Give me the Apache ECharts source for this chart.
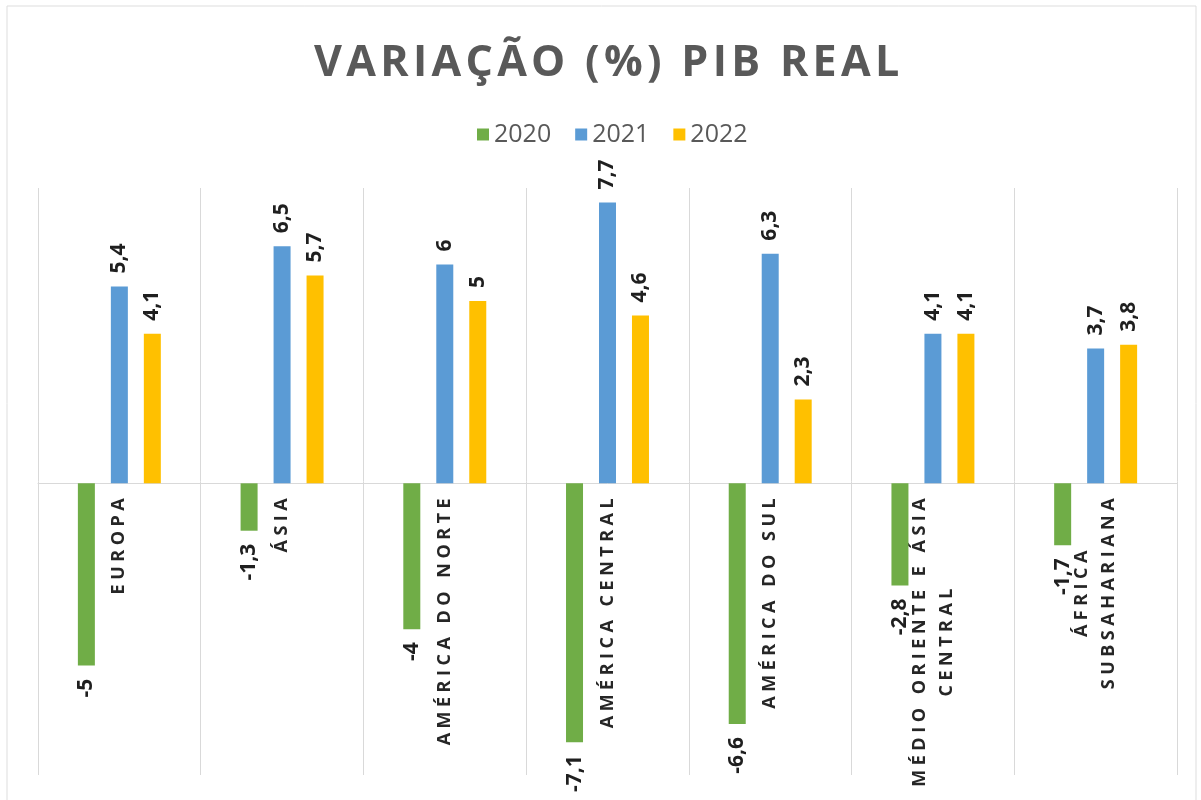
<!DOCTYPE html>
<html>
<head>
<meta charset="utf-8">
<script src="https://cdn.jsdelivr.net/npm/echarts@6/dist/echarts.min.js"></script>
<style>
html,body{margin:0;padding:0;background:#fff;}
#chart{width:1201px;height:800px;}
</style>
</head>
<body>
<div id="chart"></div>
<script>
const titleText = 'VARIAÇÃO (%) PIB REAL';
const categories = ['EUROPA', 'ÁSIA', 'AMÉRICA DO NORTE', 'AMÉRICA CENTRAL', 'AMÉRICA DO SUL', 'MÉDIO ORIENTE E ÁSIA\nCENTRAL', 'ÁFRICA\nSUBSAHARIANA'];
const seriesNames = ['2020', '2021', '2022'];
const values2020 = [-5, -1.3, -4, -7.1, -6.6, -2.8, -1.7];
const values2021 = [5.4, 6.5, 6, 7.7, 6.3, 4.1, 3.7];
const values2022 = [4.1, 5.7, 5, 4.6, 2.3, 4.1, 3.8];
const colors = ['#70AD47', '#5B9BD5', '#FFC000'];

const Y_MIN = -8, Y_MAX = 8.1;
const GRID = {left: 38, right: 24, top: 188, bottom: 25};
const CHART_H = 800;
const gridH = CHART_H - GRID.top - GRID.bottom;
const zeroOffset = -gridH * (0 - Y_MIN) / (Y_MAX - Y_MIN);

const FONT = '"Open Sans", "Noto Sans", sans-serif';
function spaced(s, sp) { return Array.from(s).join(sp); }
function fmt(v) { return String(v).replace('.', ','); }

const chart = echarts.init(document.getElementById('chart'), null, {renderer: 'canvas'});

function makeSeries(name, data, color, neg) {
  return {
    name: name,
    type: 'bar',
    data: data,
    barWidth: 17,
    barGap: '94%',
    itemStyle: {color: color},
    label: {
      show: true,
      position: neg ? 'bottom' : 'top',
      distance: 13,
      rotate: 90,
      align: neg ? 'right' : 'left',
      verticalAlign: 'middle',
      fontFamily: FONT,
      fontSize: 21,
      fontWeight: 'bold',
      color: '#1f1f1f',
      formatter: p => fmt(p.value)
    }
  };
}

chart.setOption({
  backgroundColor: '#ffffff',
  animation: false,
  title: {
    text: spaced(titleText, '\u200A'),
    left: 309,
    top: 37,
    textStyle: {fontFamily: FONT, fontSize: 43, fontWeight: 'bold', color: '#595959'}
  },
  legend: {
    data: seriesNames,
    left: 472,
    top: 117,
    itemWidth: 12,
    itemHeight: 12,
    itemGap: 24,
    icon: 'rect',
    textStyle: {fontFamily: FONT, fontSize: 25, color: '#595959'}
  },
  grid: Object.assign({containLabel: false, outerBoundsMode: 'none'}, GRID),
  xAxis: {
    type: 'category',
    data: categories,
    offset: zeroOffset,
    axisLine: {onZero: false, lineStyle: {color: '#D9D9D9', width: 1}},
    axisTick: {show: false},
    splitLine: {show: true, interval: 0, lineStyle: {color: '#D9D9D9', width: 1}},
    axisLabel: {
      interval: 0,
      rotate: 90,
      margin: 15,
      formatter: v => v.split('\n').map(l => '{c|' + spaced(l, '\u2005') + '}').join('\n'),
      rich: {
        c: {align: 'center', fontFamily: FONT, fontSize: 18, fontWeight: 'bold', color: '#262626', lineHeight: 27}
      }
    }
  },
  yAxis: {
    type: 'value',
    min: Y_MIN,
    max: Y_MAX,
    show: false,
    splitLine: {show: false}
  },
  graphic: [{
    type: 'rect',
    shape: {x: 7, y: 6, width: 1189, height: 800},
    style: {fill: null, stroke: '#DDDDDD', lineWidth: 1},
    silent: true
  }],
  series: [
    makeSeries(seriesNames[0], values2020, colors[0], true),
    makeSeries(seriesNames[1], values2021, colors[1], false),
    makeSeries(seriesNames[2], values2022, colors[2], false)
  ]
});
</script>
</body>
</html>
